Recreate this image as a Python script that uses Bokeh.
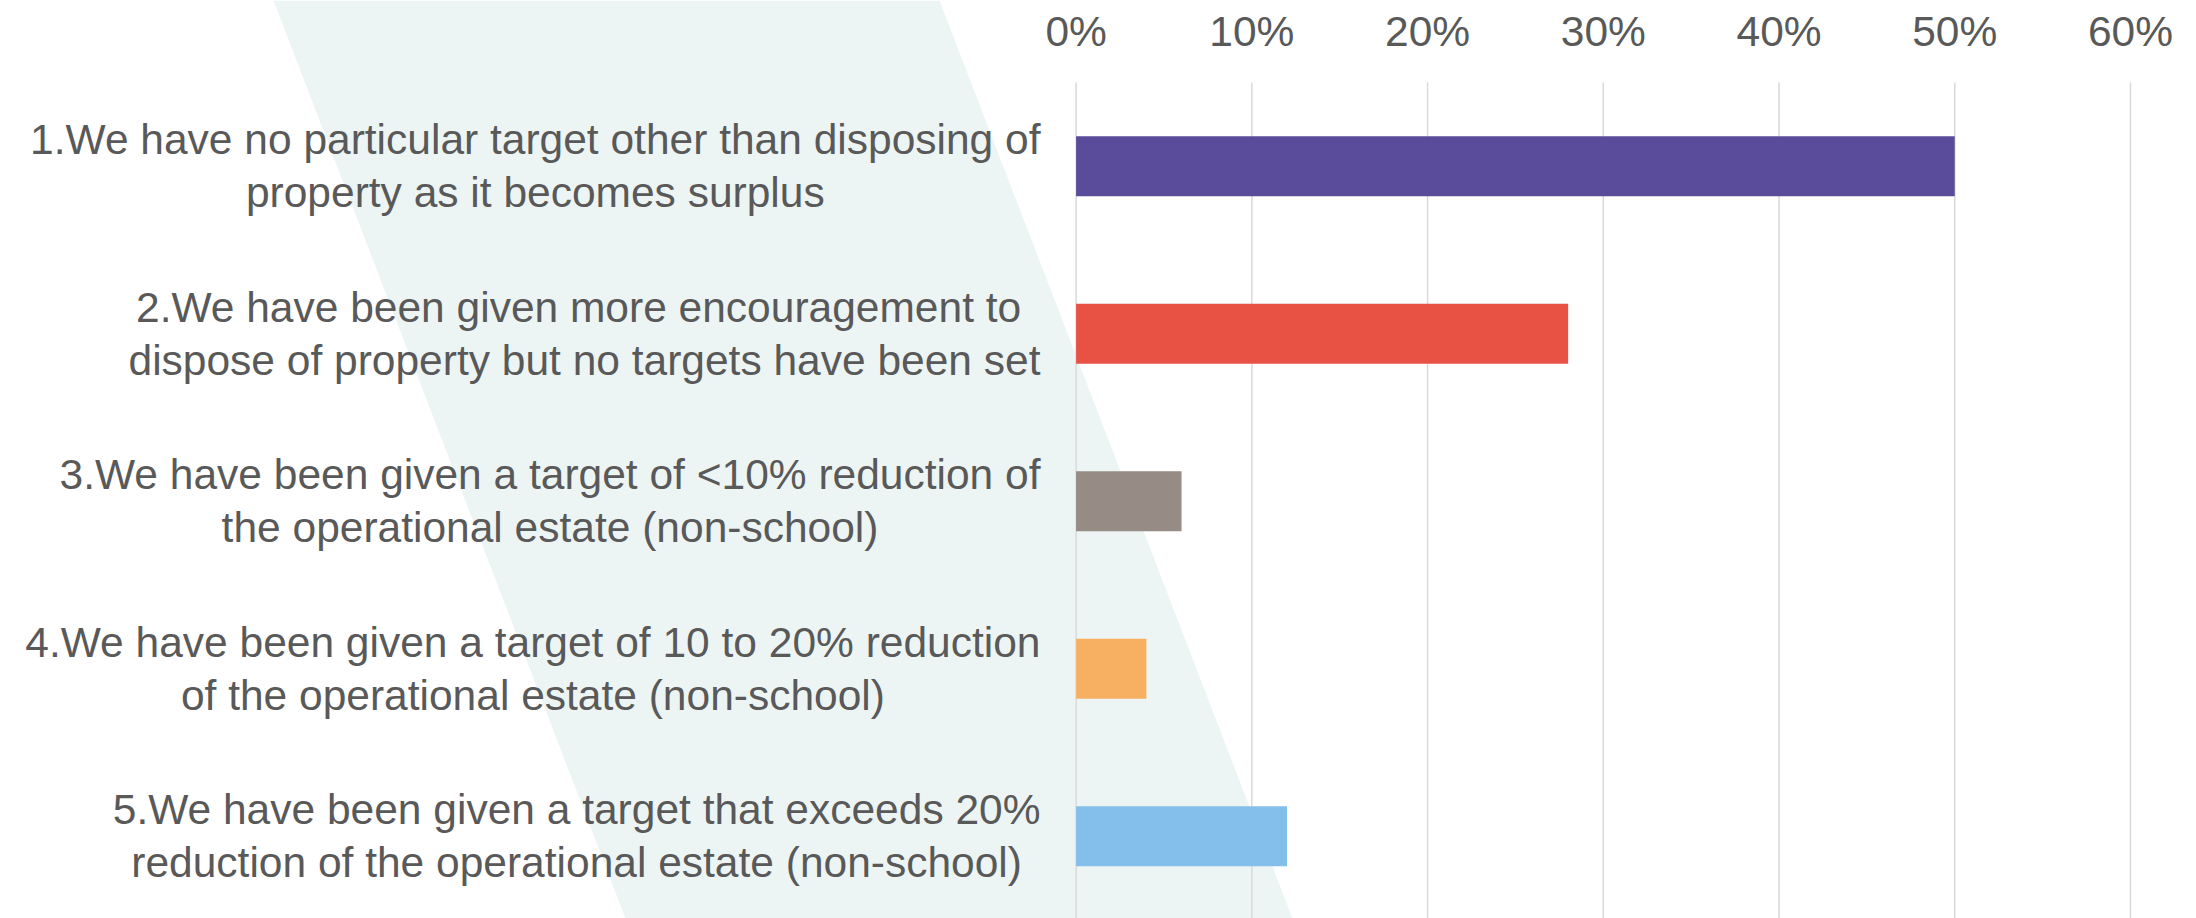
from bokeh.plotting import figure
from bokeh.models import Range1d, ColumnDataSource
from bokeh.core.properties import value
from bokeh.embed import file_html
from bokeh.resources import INLINE

# ---- data ----
categories = [
    "1.We have no particular target other than disposing of\nproperty as it becomes surplus",
    "2.We have been given more encouragement to \ndispose of property but no targets have been set",
    "3.We have been given a target of <10% reduction of\nthe operational estate (non-school)",
    "4.We have been given a target of 10 to 20% reduction\nof the operational estate (non-school)",
    "5.We have been given a target that exceeds 20%\nreduction of the operational estate (non-school)",
]
values = [50, 28, 6, 4, 12]  # percent
bar_colors = ["#5A4C9A", "#E85244", "#968B85", "#F7AF62", "#83BFEA"]
tick_values = [0, 10, 20, 30, 40, 50, 60]
tick_labels = ["0%", "10%", "20%", "30%", "40%", "50%", "60%"]

# ---- layout constants (pixels) ----
W, H = 2196, 918
X0_PX = 1075.6          # pixel of 0%
PX_PER_PCT = 17.573     # pixels per percent
ROW0_PX = 165.75        # pixel centre of first category
ROW_PX = 167.5          # pixels per category row

def px_to_x(px):
    return (px - X0_PX) / PX_PER_PCT

def px_to_y(py):
    return (py - ROW0_PX) / ROW_PX

FONT = "Liberation Sans"
TEXT_COLOR = "#595959"
FONT_SIZE = "42.5px"

p = figure(
    width=W, height=H,
    x_range=Range1d(px_to_x(0), px_to_x(W)),
    y_range=Range1d(px_to_y(H), px_to_y(0)),
    output_backend="svg", toolbar_location=None,
    x_axis_location=None, y_axis_location=None,
    min_border=0,
)
p.grid.visible = False
p.outline_line_color = None
p.background_fill_color = "white"
p.border_fill_color = "white"

# decorative background band
band_px = [(273, 0), (939, 0), (1292, H), (625, H)]
p.patch([px_to_x(a) for a, b in band_px], [px_to_y(b) for a, b in band_px],
        fill_color="#EDF5F4", line_color=None)

rows = list(range(len(categories)))

# gridlines
grid_top = px_to_y(82)
grid_bot = px_to_y(H + 5)
p.segment(x0=tick_values, y0=[grid_top] * len(tick_values),
          x1=tick_values, y1=[grid_bot] * len(tick_values),
          line_color="#D9D9D9", line_width=1.5)

# bars
src = ColumnDataSource(dict(y=rows, right=values, color=bar_colors))
p.hbar(y="y", left=0, right="right", height=0.357, fill_color="color",
       line_color=None, source=src)

# x tick labels (top)
p.text(x=tick_values, y=[px_to_y(31)] * len(tick_values), text=tick_labels,
       text_font=value(FONT), text_font_size=FONT_SIZE, text_color=TEXT_COLOR,
       text_align="center", text_baseline="middle")

# category labels
p.text(x=[px_to_x(1040)] * len(categories), y=rows, text=categories,
       text_font=value(FONT), text_font_size=FONT_SIZE, text_color=TEXT_COLOR,
       text_align="center", text_baseline="middle", anchor="center_right",
       text_line_height=1.12)

open("out.html", "w").write(file_html(p, INLINE))
